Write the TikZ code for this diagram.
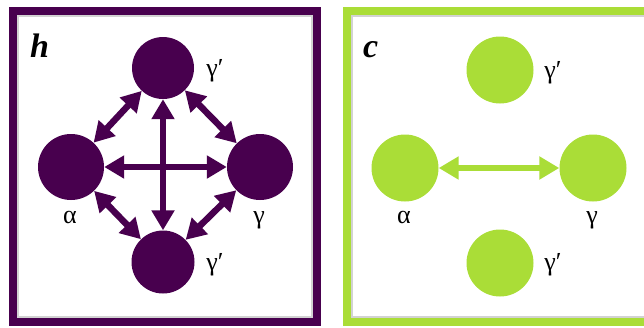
\documentclass[tikz,border=0pt]{standalone}
\usepackage{fontspec}
\setmainfont{Liberation Serif}
\usetikzlibrary{arrows.meta}
\definecolor{purp}{RGB}{72,0,78}
\definecolor{lime}{RGB}{170,221,55}
\tikzset{
  dot/.style={circle, fill=#1, inner sep=0pt, minimum size=64pt},
  lbl/.style={anchor=base, font=\fontsize{26}{26}\selectfont, inner sep=0pt},
  tag/.style={anchor=base west, font=\fontsize{34}{34}\selectfont\bfseries\itshape, inner sep=0pt},
  dbl/.style={draw=#1, line width=6.5pt, {Triangle[length=20pt,width=22pt]}-{Triangle[length=20pt,width=22pt]}},
  frame/.style={draw=#1, line width=8pt}
}
\begin{document}
\begin{tikzpicture}[x=1pt,y=-1pt]
\useasboundingbox (0,0) rectangle (644,327);
\fill[white] (0,0) rectangle (644,327);
% frames
\draw[gray!35, line width=2pt] (18,16) rectangle (312,317);
\draw[frame=purp] (13,11) rectangle (317,322);
\draw[gray!35, line width=2pt] (352,16) rectangle (660,317);
\draw[frame=lime] (347,11) rectangle (660,322);
% left panel
\node[tag] (h) at (30,57) {h};
\node[dot=purp, minimum size=62pt] (t) at (163,68) {};
\node[dot=purp, minimum size=66pt] (l) at (71,167) {};
\node[dot=purp, minimum size=66pt] (r) at (260,167) {};
\node[dot=purp, minimum size=63pt] (b) at (163,262) {};
\draw[dbl=purp] (l) -- (r);
\draw[dbl=purp] (t) -- (b);
\draw[dbl=purp] (l) -- (t);
\draw[dbl=purp] (t) -- (r);
\draw[dbl=purp] (l) -- (b);
\draw[dbl=purp] (b) -- (r);
\node[lbl] (lt) at (215,76) {γ′};
\node[lbl] (ll) at (70,223) {α};
\node[lbl] (lr) at (259,223) {γ};
\node[lbl] (lb) at (215,270) {γ′};
% right panel
\node[tag] (c) at (363,57) {c};
\node[dot=lime, minimum size=67pt] (t2) at (500,70) {};
\node[dot=lime, minimum size=67pt] (l2) at (405,168) {};
\node[dot=lime, minimum size=67pt] (r2) at (593,168) {};
\node[dot=lime, minimum size=67pt] (b2) at (500,263) {};
\draw[dbl=lime] (l2) -- (r2);
\node[lbl] (rt) at (553,78) {γ′};
\node[lbl] (rl) at (404,223) {α};
\node[lbl] (rr) at (592,223) {γ};
\node[lbl] (rb) at (553,270) {γ′};
\end{tikzpicture}
\end{document}
